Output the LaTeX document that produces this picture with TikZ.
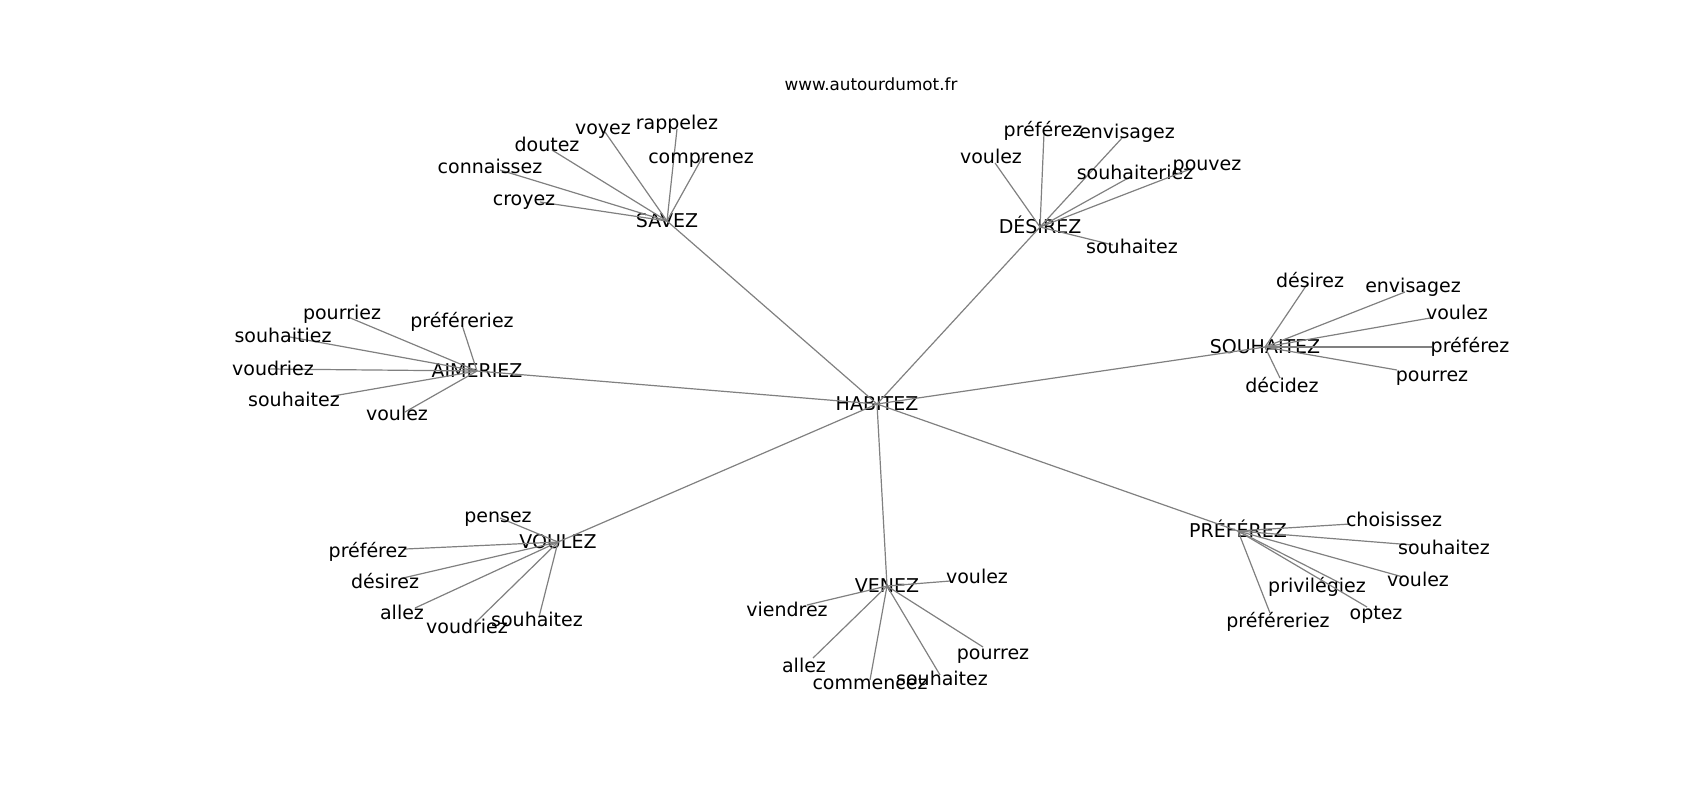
\documentclass[tikz,border=0pt]{standalone}
\usepackage{fontspec}
\setmainfont{DejaVu Sans}
\usepackage{tikz}

\begin{document}
\begin{tikzpicture}[x=0.5pt, y=-0.5pt,
    word/.style={font=\fontsize{9.5}{11}\selectfont, inner sep=0pt, text height=0.82em, text depth=0.18em},
    link/.style={draw=gray, line width=0.6pt}]
            \useasboundingbox (0,0) rectangle (1700,800);
            \node[font=\fontsize{8.4}{10}\selectfont] (title) at (871,84) {www.autourdumot.fr};
            % centre and the seven hubs
            \node[word] (habitez) at (877,404) {HABITEZ};
            \node[word] (savez) at (667,221) {SAVEZ};
            \node[word] (desirez) at (1040,227) {DÉSIREZ};
            \node[word] (souhaitez) at (1265,347) {SOUHAITEZ};
            \node[word] (aimeriez) at (477,371) {AIMERIEZ};
            \node[word] (voulez) at (558,542) {VOULEZ};
            \node[word] (venez) at (887,586) {VENEZ};
            \node[word] (preferez) at (1238,531) {PRÉFÉREZ};
            \foreach \h in {savez,desirez,souhaitez,aimeriez,voulez,venez,preferez}
                \draw[link] (habitez.center) -- (\h.center);
            % leaves: name/text/label x/label y/end x/end y
            \foreach \n/\t/\lx/\ly/\ex/\ey in {voyez/voyez/603/128/605/132, rappelez/rappelez/677/123/677/129,
                doutez/doutez/547/145/552/150, connaissez/connaissez/490/167/500/170,
                comprenez/comprenez/701/157/702/158, croyez/croyez/524/199/540/202}{
                \coordinate (savez-\n) at (\ex,\ey);
                \draw[link] (savez.center) -- (savez-\n);
                \node[word] (savez-\n-label) at (\lx,\ly) {\t};
            }
            \foreach \n/\t/\lx/\ly/\ex/\ey in {preferez/préférez/1043/130/1044/133, envisagez/envisagez/1127/132/1122/138,
                voulez/voulez/991/157/995/163, souhaiteriez/souhaiteriez/1135/173/1130/177,
                pouvez/pouvez/1207/164/1193/168, souhaitez/souhaitez/1132/247/1113/245}{
                \coordinate (desirez-\n) at (\ex,\ey);
                \draw[link] (desirez.center) -- (desirez-\n);
                \node[word] (desirez-\n-label) at (\lx,\ly) {\t};
            }
            \foreach \n/\t/\lx/\ly/\ex/\ey in {desirez/désirez/1310/281/1308/283, envisagez/envisagez/1413/286/1405/292,
                voulez/voulez/1457/313/1430/318, preferez/préférez/1470/346/1432/347,
                pourrez/pourrez/1432/375/1397/370, decidez/décidez/1282/386/1280/378}{
                \coordinate (souhaitez-\n) at (\ex,\ey);
                \draw[link] (souhaitez.center) -- (souhaitez-\n);
                \node[word] (souhaitez-\n-label) at (\lx,\ly) {\t};
            }
            \foreach \n/\t/\lx/\ly/\ex/\ey in {pourriez/pourriez/342/313/348/317, prefereriez/préféreriez/462/321/462/325,
                souhaitiez/souhaitiez/283/336/290/337, voudriez/voudriez/273/369/270/369,
                souhaitez/souhaitez/294/400/333/396, voulez/voulez/397/414/405/412}{
                \coordinate (aimeriez-\n) at (\ex,\ey);
                \draw[link] (aimeriez.center) -- (aimeriez-\n);
                \node[word] (aimeriez-\n-label) at (\lx,\ly) {\t};
            }
            \foreach \n/\t/\lx/\ly/\ex/\ey in {pensez/pensez/498/516/500/518, preferez/préférez/368/551/405/549,
                desirez/désirez/385/582/403/578, allez/allez/402/613/415/608,
                voudriez/voudriez/467/627/475/623, souhaitez/souhaitez/537/620/539/617}{
                \coordinate (voulez-\n) at (\ex,\ey);
                \draw[link] (voulez.center) -- (voulez-\n);
                \node[word] (voulez-\n-label) at (\lx,\ly) {\t};
            }
            \foreach \n/\t/\lx/\ly/\ex/\ey in {voulez/voulez/977/577/950/581, viendrez/viendrez/787/610/807/605,
                pourrez/pourrez/993/653/983/647, allez/allez/804/666/813/658,
                commencez/commencez/870/683/870/680, souhaitez/souhaitez/942/679/940/675}{
                \coordinate (venez-\n) at (\ex,\ey);
                \draw[link] (venez.center) -- (venez-\n);
                \node[word] (venez-\n-label) at (\lx,\ly) {\t};
            }
            \foreach \n/\t/\lx/\ly/\ex/\ey in {choisissez/choisissez/1394/520/1350/524, souhaitez/souhaitez/1444/548/1413/545,
                voulez/voulez/1418/580/1403/577, privilegiez/privilégiez/1317/586/1340/583,
                optez/optez/1376/613/1367/607, prefereriez/préféreriez/1278/621/1270/613}{
                \coordinate (preferez-\n) at (\ex,\ey);
                \draw[link] (preferez.center) -- (preferez-\n);
                \node[word] (preferez-\n-label) at (\lx,\ly) {\t};
            }
        \end{tikzpicture}
\end{document}
